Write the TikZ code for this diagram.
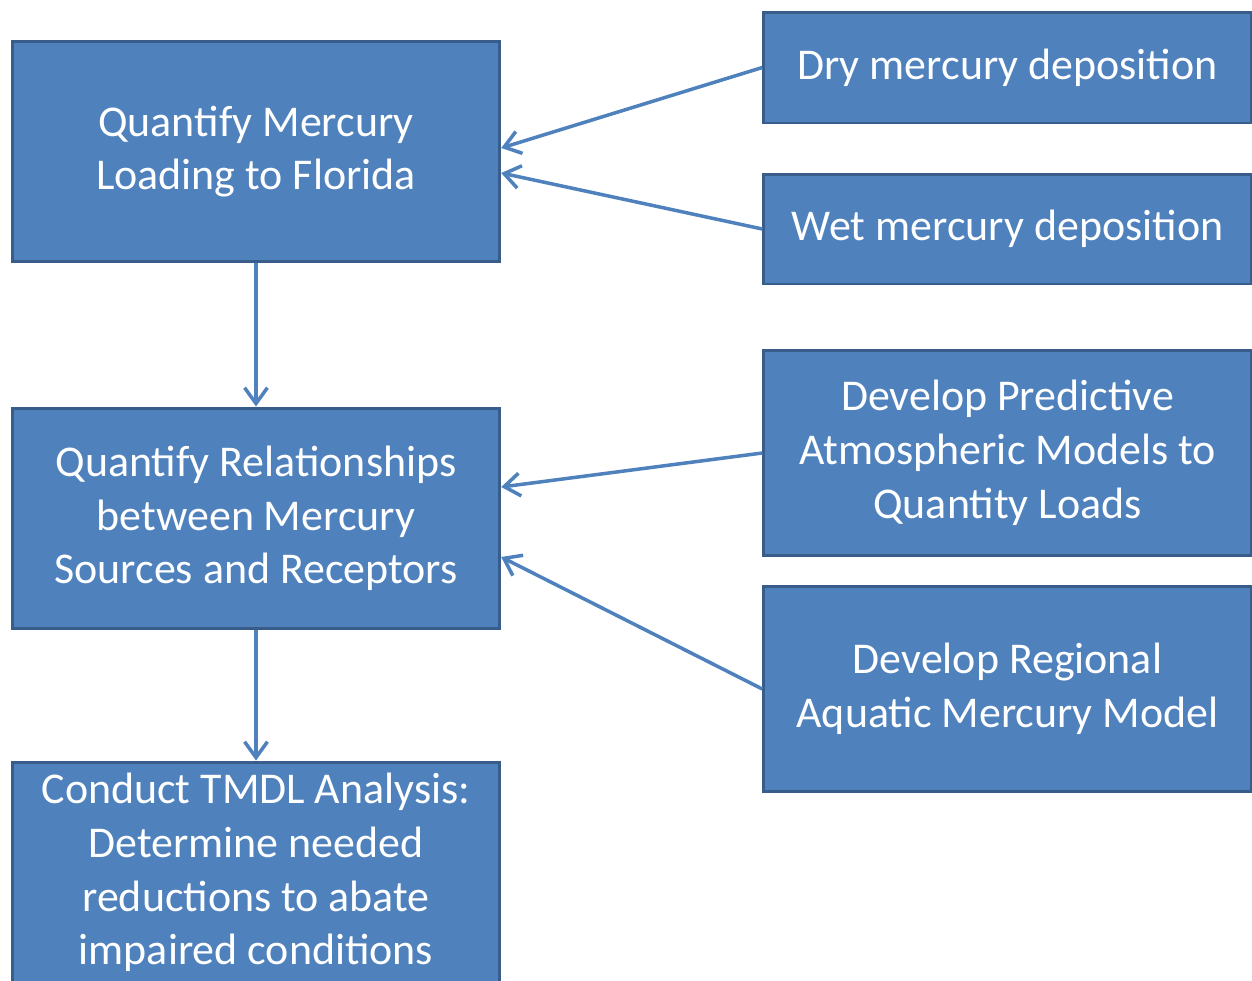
\documentclass[tikz,border=0pt]{standalone}
\usepackage{fontspec}
\setmainfont{Carlito}
\usepackage{xcolor}
\usepackage{tikz}
\usetikzlibrary{arrows.meta}
\definecolor{boxfill}{HTML}{4F81BD}
\definecolor{boxline}{HTML}{385D8A}

\begin{document}
\begin{tikzpicture}[x=0.02cm,y=-0.02cm,
    box/.style={draw=boxline,line width=1.7pt,fill=boxfill,text=white,
        align=center,inner sep=0pt,minimum width=9.75cm,
        font=\fontsize{25}{30.6}\selectfont},
    link/.style={draw=boxfill,line width=2pt,
        -{Straight Barb[length=9pt,width=13pt,line width=2pt]}}]
                            \useasboundingbox (0,0) rectangle (1252,981);
                            % left column
                            \node [box,minimum height=4.42cm] (load) at (256,151.5)
                                {Quantify Mercury\\Loading to Florida};
                            \node [box,minimum height=4.42cm] (rel) at (256,518.5)
                                {Quantify Relationships\\between Mercury\\Sources and Receptors};
                            \node [box,minimum height=4.42cm] (tmdl) at (256,872.5)
                                {Conduct TMDL Analysis:\\Determine needed\\reductions to abate\\impaired conditions};
                            % right column
                            \node [box,minimum height=2.22cm] (dry) at (1007.5,67.5)
                                {Dry mercury deposition};
                            \node [box,minimum height=2.2cm] (wet) at (1007.5,229)
                                {Wet mercury deposition};
                            \node [box,minimum height=4.12cm] (atmo) at (1007.5,453)
                                {Develop Predictive\\Atmospheric Models to\\Quantity Loads};
                            \node [box,minimum height=4.12cm] (aqua) at (1007.5,689)
                                {Develop Regional\\Aquatic Mercury Model};
                            % connectors
                            \draw [link] (dry.west) -- ([yshift=0.07cm]load.east);
                            \draw [link] (wet.west) -- ([yshift=-0.43cm]load.east);
                            \draw [link] (atmo.west) -- ([yshift=0.63cm]rel.east);
                            \draw [link] (aqua.west) -- ([yshift=-0.77cm]rel.east);
                            \draw [link] (load.south) -- (rel.north);
                            \draw [link] (rel.south) -- (tmdl.north);
                        \end{tikzpicture}
\end{document}
